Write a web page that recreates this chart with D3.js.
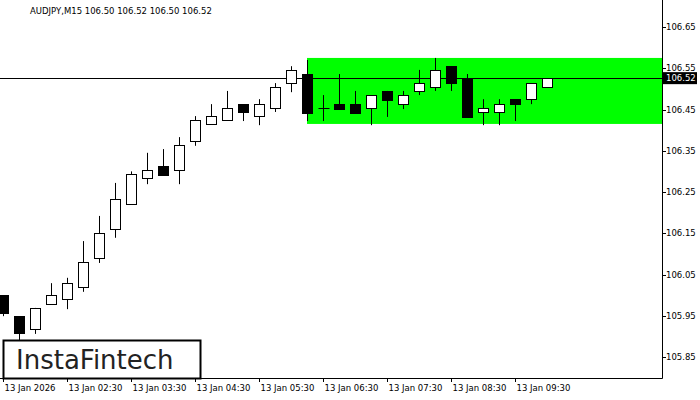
<!DOCTYPE html><html><head><meta charset="utf-8"><script src="https://cdn.jsdelivr.net/npm/d3@7"></script>
<style>body{margin:0;background:#fff}text{font-family:"DejaVu Sans",sans-serif}</style></head><body><svg id="c" width="700" height="400"></svg>
<script>
const opens=[106.000,105.949,105.918,105.979,105.991,106.020,106.090,106.160,106.221,106.284,106.313,106.303,106.374,106.415,106.425,106.463,106.434,106.454,106.514,106.536,106.454,106.463,106.463,106.454,106.495,106.463,106.495,106.505,106.555,106.526,106.444,106.444,106.475,106.475,106.505];
const closes=[105.957,105.908,105.969,106.000,106.029,106.080,106.151,106.233,106.294,106.303,106.291,106.364,106.425,106.434,106.454,106.444,106.463,106.505,106.546,106.441,106.454,106.451,106.441,106.485,106.473,106.485,106.514,106.546,106.514,106.432,106.454,106.463,106.463,106.514,106.526];
const highs=[106.000,105.949,105.969,106.029,106.042,106.131,106.192,106.272,106.300,106.345,106.354,106.383,106.434,106.463,106.495,106.463,106.475,106.514,106.555,106.570,106.485,106.536,106.495,106.485,106.495,106.495,106.546,106.575,106.555,106.536,106.475,106.475,106.475,106.514,106.526];
const lows=[105.949,105.891,105.906,105.979,105.966,106.008,106.078,106.139,106.221,106.269,106.291,106.269,106.362,106.415,106.425,106.422,106.412,106.444,106.492,106.422,106.422,106.451,106.441,106.412,106.432,106.451,106.485,106.495,106.495,106.432,106.412,106.412,106.422,106.463,106.505];
const yTicks=[106.65,106.55,106.45,106.35,106.25,106.15,106.05,105.95,105.85];
const xLabels=["13 Jan 2026","13 Jan 02:30","13 Jan 03:30","13 Jan 04:30","13 Jan 05:30","13 Jan 06:30","13 Jan 07:30","13 Jan 08:30","13 Jan 09:30"];
const zone=[106.415,106.575], zoneStart=19, current=106.526, currentLabel="106.52";
const title="AUDJPY,M15  106.50 106.52 106.50 106.52";

const svg=d3.select("#c");
const x=d3.scaleLinear().domain([0,1]).range([3,19]);
const y=d3.scaleLinear().domain([105.85,106.65]).range([357,27]);
const R=662,B=378,FS=8.5;
svg.append("rect").attr("x",x(zoneStart)).attr("y",y(zone[1])).attr("width",R-x(zoneStart)).attr("height",y(zone[0])-y(zone[1])).attr("fill","#00ff00");
svg.append("line").attr("x1",0).attr("x2",R).attr("y1",Math.round(y(current))+.5).attr("y2",Math.round(y(current))+.5).attr("stroke","#000");
const g=svg.append("g");
opens.forEach((o,i)=>{
  const cx=Math.round(x(i))+.5;
  g.append("line").attr("x1",cx).attr("x2",cx).attr("y1",y(highs[i])).attr("y2",y(lows[i])).attr("stroke","#000");
  const t=Math.round(y(Math.max(o,closes[i]))),b=Math.round(y(Math.min(o,closes[i])));
  if(b-t<1){g.append("line").attr("x1",cx-5).attr("x2",cx+6).attr("y1",t+.5).attr("y2",t+.5).attr("stroke","#000");}
  else g.append("rect").attr("x",cx-5).attr("y",t+.5).attr("width",10).attr("height",b-t).attr("fill",closes[i]>=o?"#fff":"#000").attr("stroke","#000");
});
svg.append("path").attr("d",`M${R+.5},0V${B+.5}H0`).attr("fill","none").attr("stroke","#000");
yTicks.forEach(v=>{
  svg.append("line").attr("x1",R).attr("x2",R+4).attr("y1",Math.round(y(v))+.5).attr("y2",Math.round(y(v))+.5).attr("stroke","#000");
  svg.append("text").attr("x",666).attr("y",y(v)+3).attr("font-size",FS).text(v.toFixed(2));
});
svg.append("rect").attr("x",R+1).attr("y",y(current)-6).attr("width",34).attr("height",12).attr("fill","#000");
svg.append("text").attr("x",666).attr("y",y(current)+3).attr("font-size",FS).attr("fill","#fff").text(currentLabel);
xLabels.forEach((l,k)=>{
  const xx=Math.round(x(k*4))+.5;
  svg.append("line").attr("x1",xx).attr("x2",xx).attr("y1",B).attr("y2",B+4).attr("stroke","#000");
  svg.append("text").attr("x",xx+1).attr("y",391).attr("font-size",FS).text(l);
});
svg.append("text").attr("x",30).attr("y",14).attr("font-size",FS).text(title);
svg.append("rect").attr("x",3.5).attr("y",340.5).attr("width",197).attr("height",38).attr("fill","#fff").attr("stroke","#000").attr("stroke-width",2);
svg.append("text").attr("x",16).attr("y",369).attr("font-size",26).attr("font-family","Inter, sans-serif").attr("fill","#222").text("InstaFintech");
</script></body></html>
